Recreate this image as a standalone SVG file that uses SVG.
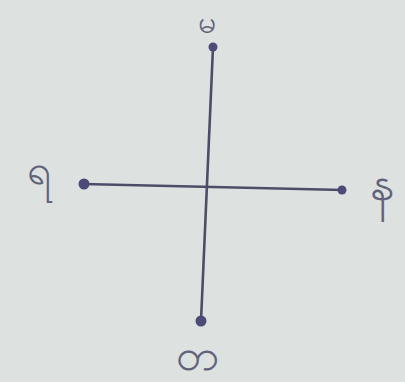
<svg xmlns="http://www.w3.org/2000/svg" width="405" height="382" viewBox="0 0 405 382">
<style>
.bg{fill:#dde2e0}
.edge{stroke:#4d4d68;stroke-width:2.6;stroke-linecap:round;fill:none}
.dot{fill:#4b4b78}
.lbl{font-family:"Noto Sans","DejaVu Sans",sans-serif;fill:#62627a;text-anchor:middle}
</style>
<rect class="bg" width="405" height="382"/>
<g id="connectors">
<line class="edge" x1="213" y1="47" x2="201" y2="321"/>
<line class="edge" x1="83" y1="184" x2="343" y2="190"/>
</g>
<g id="node-north">
<circle class="dot" cx="213" cy="47" r="4.5"/>
<text class="lbl" x="207" y="33" font-size="32">မ</text>
</g>
<g id="node-west">
<circle class="dot" cx="84" cy="184" r="5.5"/>
<text class="lbl" x="39" y="184" font-size="42">ရ</text>
</g>
<g id="node-east">
<circle class="dot" cx="342" cy="190" r="4.5"/>
<text class="lbl" x="382" y="200" font-size="48">န</text>
</g>
<g id="node-south">
<circle class="dot" cx="201" cy="321" r="5.5"/>
<text class="lbl" x="197" y="370" font-size="44">တ</text>
</g>
</svg>
